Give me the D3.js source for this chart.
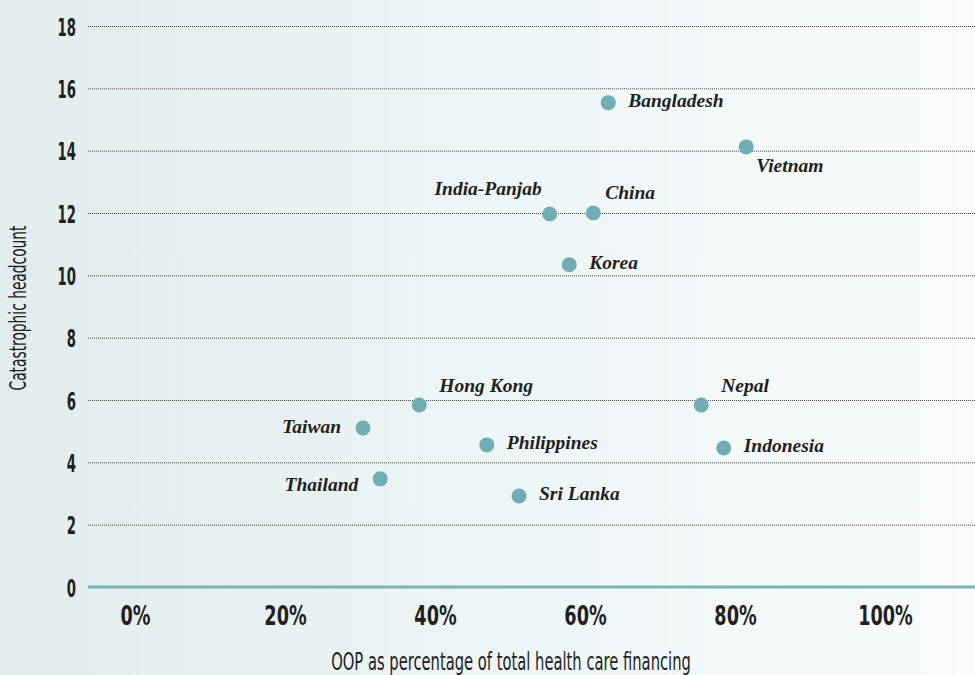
<!DOCTYPE html>
<html>
<head>
<meta charset="utf-8">
<script src="https://cdn.jsdelivr.net/npm/d3@7"></script>
<style>
  html, body { margin: 0; padding: 0; }
  body { width: 975px; height: 675px; overflow: hidden; }
</style>
</head>
<body>
<div id="chart"></div>
<script>
// OOP share vs catastrophic headcount, one dot per country

const countries = ["Bangladesh", "Vietnam", "India-Panjab", "China", "Korea", "Hong Kong",
  "Nepal", "Taiwan", "Philippines", "Indonesia", "Thailand", "Sri Lanka"];
const oopShare = [0.631, 0.815, 0.553, 0.611, 0.579, 0.379,
  0.755, 0.304, 0.469, 0.785, 0.327, 0.512];
const headcount = [15.54, 14.12, 11.97, 12.0, 10.34, 5.84,
  5.84, 5.10, 4.56, 4.46, 3.47, 2.92];
// where each name sits relative to its dot
const labelSide = ["right", "below", "aboveLeft", "aboveNear", "right", "above",
  "above", "left", "right", "right", "belowLeft", "right"];

const xTicks = [0, 0.2, 0.4, 0.6, 0.8, 1.0];
const yTicks = [0, 2, 4, 6, 8, 10, 12, 14, 16, 18];

const width = 975, height = 675;
const m = { top: 26, right: 0, bottom: 88, left: 88 };
// no condensed face installed, so squeeze DejaVu Sans horizontally
const sans = "'DejaVu Sans',sans-serif";
const serif = "'Liberation Serif','DejaVu Serif',serif";
const ink = "#231f20";

const svg = d3.select("#chart").append("svg")
  .attr("width", width).attr("height", height);

// soft blue-grey wash fading to white on the right
const grad = svg.append("defs").append("linearGradient")
  .attr("id", "bg").attr("x1", 0).attr("x2", 1).attr("y1", 0).attr("y2", 0);
grad.append("stop").attr("offset", 0).attr("stop-color", "#e1eced");
grad.append("stop").attr("offset", 0.5).attr("stop-color", "#edf5f6");
grad.append("stop").attr("offset", 1).attr("stop-color", "#f9fbfc");
svg.append("rect").attr("width", width).attr("height", height).attr("fill", "url(#bg)");

const x = d3.scaleLinear().domain([-0.0627, 1.12]).range([m.left, width - m.right]);
const y = d3.scaleLinear().domain([0, 18]).range([height - m.bottom, m.top]);

// dotted gridlines
svg.append("g").selectAll("line").data(yTicks.filter((d) => d > 0)).join("line")
  .attr("x1", m.left).attr("x2", width)
  .attr("y1", (d) => y(d) + 0.5).attr("y2", (d) => y(d) + 0.5)
  .attr("stroke", "#444").attr("stroke-width", 1)
  .attr("stroke-dasharray", "1,1");

// y axis labels
svg.append("g")
  .attr("transform", `translate(${m.left - 12},0)`)
  .call(d3.axisLeft(y).tickValues(yTicks).tickSize(0).tickPadding(0))
  .call((g) => g.select(".domain").remove())
  .selectAll("text")
  .attr("dy", "0.36em")
  .attr("transform", "scale(0.53,1)")
  .attr("fill", ink)
  .style("font-family", sans).style("font-size", "25px").style("font-weight", 700);

// zero line in teal
svg.append("line")
  .attr("x1", m.left).attr("x2", width)
  .attr("y1", y(0)).attr("y2", y(0))
  .attr("stroke", "#78b2ba").attr("stroke-width", 3);

// x axis labels
svg.append("g")
  .attr("transform", `translate(0,${y(0) + 20})`)
  .call(d3.axisBottom(x).tickValues(xTicks).tickFormat(d3.format(".0%")).tickSize(0).tickPadding(0))
  .call((g) => g.select(".domain").remove())
  .selectAll("text")
  .attr("dy", "0.71em")
  .attr("transform", "scale(0.68,1)")
  .attr("fill", ink)
  .style("font-family", sans).style("font-size", "26px").style("font-weight", 700);

// axis titles
svg.append("text")
  .attr("transform", "translate(511,670) scale(0.614,1)")
  .attr("text-anchor", "middle").attr("fill", ink)
  .style("font-family", sans).style("font-size", "24px")
  .text("OOP as percentage of total health care financing");

svg.append("text")
  .attr("transform", "translate(26,308) rotate(-90) scale(0.6,1)")
  .attr("text-anchor", "middle").attr("fill", ink)
  .style("font-family", sans).style("font-size", "23px")
  .text("Catastrophic headcount");

// dots
const pts = countries.map((c, i) => ({ c, vx: oopShare[i], vy: headcount[i], side: labelSide[i] }));
svg.append("g").selectAll("circle").data(pts).join("circle")
  .attr("cx", (d) => x(d.vx)).attr("cy", (d) => y(d.vy))
  .attr("r", 7.5).attr("fill", "#72adb5");

// country names
const off = {
  right: [20, 4, "start"],
  below: [10, 25, "start"],
  above: [20, -13, "start"],
  aboveNear: [12, -14, "start"],
  aboveLeft: [-8, -19, "end"],
  left: [-22, 5, "end"],
  belowLeft: [-22, 12, "end"],
};
svg.append("g").selectAll("text").data(pts).join("text")
  .attr("x", (d) => x(d.vx) + off[d.side][0])
  .attr("y", (d) => y(d.vy) + off[d.side][1])
  .attr("text-anchor", (d) => off[d.side][2])
  .attr("fill", ink)
  .style("font-family", serif).style("font-style", "italic").style("font-weight", 700)
  .style("font-size", "19.5px")
  .text((d) => d.c);
</script>
</body>
</html>
